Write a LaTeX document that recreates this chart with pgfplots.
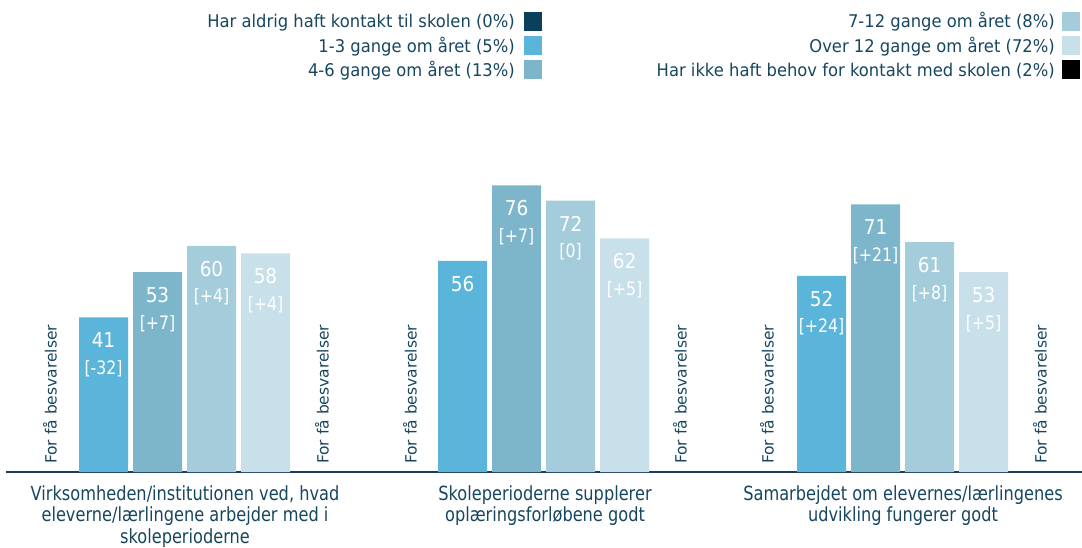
\documentclass[border=0pt]{standalone}
\usepackage{fontspec}
\setmainfont{DejaVu Sans}
\newfontfamily\catfont[FakeStretch=0.83]{DejaVu Sans}
\newfontfamily\brfont[FakeStretch=0.85]{DejaVu Sans}
\newfontfamily\valfont[FakeStretch=0.9]{DejaVu Sans}
\newfontfamily\legfont[FakeStretch=0.935]{DejaVu Sans}
\usepackage{pgfplots}
\usepackage{pgfplotstable}
\pgfplotsset{compat=1.18}
\definecolor{cA}{HTML}{0B3F5C}
\definecolor{cB}{HTML}{5BB5DB}
\definecolor{cC}{HTML}{7DB6CB}
\definecolor{cD}{HTML}{A4CCDB}
\definecolor{cE}{HTML}{C8E0EA}
\definecolor{cF}{HTML}{000000}
\definecolor{txt}{HTML}{17465F}
\definecolor{axc}{HTML}{1F3B5B}
\tikzset{fewlbl/.style={rotate=90, anchor=west, inner sep=0pt, text=txt, font=\fontsize{15.5}{18}\selectfont}}

% x = horizontal position, y = value, d = change vs previous
\pgfplotstableread{
x y d
103.5 41 [-32]
462.5 56 {}
821.5 52 [+24]
}\tabB
\pgfplotstableread{
x y d
157.5 53 [+7]
516.5 76 [+7]
875.5 71 [+21]
}\tabC
\pgfplotstableread{
x y d
211.5 60 [+4]
570.5 72 [0]
929.5 61 [+8]
}\tabD
\pgfplotstableread{
x y d
265.5 58 [+4]
624.5 62 [+5]
983.5 53 [+5]
}\tabE

\begin{document}
\begin{tikzpicture}
\begin{axis}[
  name=ax, at={(0,0)}, anchor=south west,
  scale only axis, width=1076pt, height=377pt,
  xmin=6, xmax=1082, ymin=0, ymax=100,
  axis x line*=bottom, axis y line=none,
  x axis line style={-, draw=axc, line width=1.4pt},
  xtick=\empty, ytick=\empty, major tick length=0pt,
  clip=false,
  ybar, bar width=49pt, bar shift=0pt,
  point meta=explicit symbolic,
  visualization depends on={rawy\as\yv},
  nodes near coords={\pgfmathtruncatemacro\yvi{\yv}\begin{tabular}[t]{@{}c@{}}\yvi\\[5.5pt]{\brfont\fontsize{18.5}{21}\selectfont\pgfplotspointmeta}\end{tabular}},
  every node near coord/.append style={anchor=base, yshift=-30.5pt, inner sep=0pt,
     text=white, font=\valfont\fontsize{20.5}{21}\selectfont},
]
\addplot[fill=cB, draw=none] table[x=x, y=y, meta=d] {\tabB};
\addplot[fill=cC, draw=none] table[x=x, y=y, meta=d] {\tabC};
\addplot[fill=cD, draw=none] table[x=x, y=y, meta=d] {\tabD};
\addplot[fill=cE, draw=none] table[x=x, y=y, meta=d] {\tabE};

\node[fewlbl] at (axis cs:50,2.1) {For få besvarelser};
\node[fewlbl] at (axis cs:322,2.1) {For få besvarelser};
\node[fewlbl] at (axis cs:410,2.1) {For få besvarelser};
\node[fewlbl] at (axis cs:680,2.1) {For få besvarelser};
\node[fewlbl] at (axis cs:767,2.1) {For få besvarelser};
\node[fewlbl] at (axis cs:1040,2.1) {For få besvarelser};
\end{axis}

\begin{scope}[shift={(ax.south west)}]
\begin{scope}[shift={(-6pt,472pt)}, x=1pt, y=-1pt]
  \begin{scope}[every node/.style={inner sep=0pt, text=txt, font=\legfont\fontsize{17.5}{20}\selectfont, anchor=base east}]
  \node at (515,28) {Har aldrig haft kontakt til skolen (0\%)};
  \node at (515,53) {1-3 gange om året (5\%)};
  \node at (515,77) {4-6 gange om året (13\%)};
  \node at (1055,28) {7-12 gange om året (8\%)};
  \node at (1055,53) {Over 12 gange om året (72\%)};
  \node at (1055,77) {Har ikke haft behov for kontakt med skolen (2\%)};
  \end{scope}
  \fill[cA] (524,12) rectangle (542,31);
  \fill[cB] (524,36.5) rectangle (542,55);
  \fill[cC] (524,60.5) rectangle (542,79);
  \fill[cD] (1062,12) rectangle (1080,31);
  \fill[cE] (1062,36.5) rectangle (1080,55);
  \fill[cF] (1062,60.5) rectangle (1080,79);

  \begin{scope}[every node/.style={inner sep=0pt, text=txt, font=\catfont\fontsize{19.5}{21}\selectfont, anchor=base}]
  \node at (185,500) {Virksomheden/institutionen ved, hvad};
  \node at (185,521.5) {eleverne/lærlingene arbejder med i};
  \node at (185,543) {skoleperioderne};
  \node at (545,500) {Skoleperioderne supplerer};
  \node at (545,521.5) {oplæringsforløbene godt};
  \node at (903,500) {Samarbejdet om elevernes/lærlingenes};
  \node at (903,521.5) {udvikling fungerer godt};
  \end{scope}
  \pgfresetboundingbox
  \path[use as bounding box] (0,0) rectangle (1082,547);
\end{scope}
\end{scope}
\end{tikzpicture}
\end{document}
